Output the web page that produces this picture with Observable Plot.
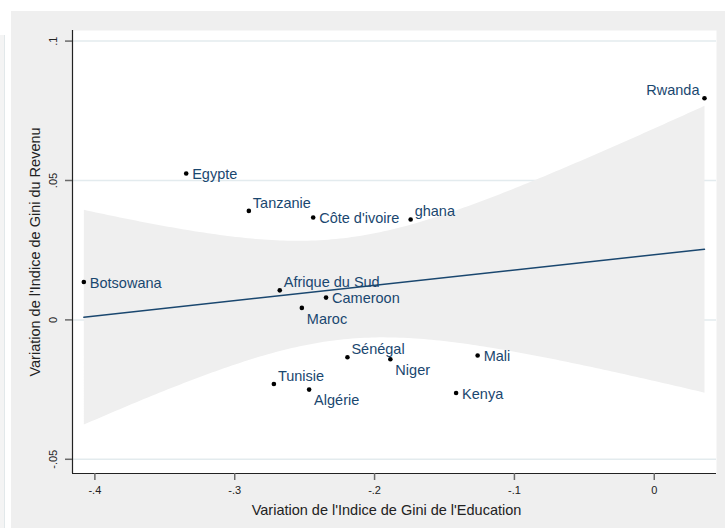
<!DOCTYPE html>
<html>
<head>
<meta charset="utf-8">
<script src="https://cdn.jsdelivr.net/npm/d3@7"></script>
<script src="https://cdn.jsdelivr.net/npm/@observablehq/plot@0.6"></script>
<style>
  html, body { margin: 0; padding: 0; background: #ffffff; }
  body { width: 725px; height: 528px; position: relative; overflow: hidden; font-family: "Liberation Sans", Arial, sans-serif; }
  #edge { position: absolute; left: 0; top: 35px; width: 4px; bottom: 0; background: #f4f4f4; border-right: 1px solid #e2e8ea; }
  #panel { position: absolute; left: 11px; top: 11px; right: -20px; bottom: -20px; background: #efefef; }
  #panel svg { display: block; }
</style>
</head>
<body>
<div id="edge"></div>
<div id="panel"></div>
<script>
// Change in the education Gini (x) against change in the income Gini (y), by country
const countries = ["Rwanda", "Egypte", "Tanzanie", "Côte d'ivoire", "ghana", "Botsowana", "Afrique du Sud", "Cameroon", "Maroc", "Sénégal", "Niger", "Mali", "Tunisie", "Algérie", "Kenya"];
const eduGini = [0.0359, -0.3347, -0.2899, -0.2439, -0.1742, -0.4079, -0.2678, -0.2347, -0.2520, -0.2194, -0.1887, -0.1263, -0.2720, -0.2468, -0.1417];
const incomeGini = [0.0795, 0.0525, 0.0391, 0.0367, 0.0360, 0.0136, 0.0106, 0.0080, 0.0043, -0.0134, -0.0141, -0.0128, -0.0230, -0.0250, -0.0262];
// marker-label clock positions (as with Stata's mlabvposition)
const labelClock = [11, 3, 2, 3, 2, 3, 2, 3, 4, 2, 4, 3, 2, 4, 3];

const xTicks = [-0.4, -0.3, -0.2, -0.1, 0];
const yTicks = [-0.05, 0, 0.05, 0.1];
const xDomain = [-0.416, 0.0445];
const yDomain = [-0.0551, 0.1038];

const xTitle = "Variation de l'Indice de Gini de l'Education";
const yTitle = "Variation de l'Indice de Gini du Revenu";

const rows = countries.map((c, i) => ({country: c, edu: eduGini[i], income: incomeGini[i], clock: labelClock[i]}));

// Stata-style numbers: ".05", "-.4", "0"
const fmt = v => String(+v.toFixed(4)).replace(/^(-?)0\./, "$1.");

const navy = "#1a476f";
const labelFont = 14.5;

// label offsets for each clock position
const placement = {
  3:  {dx: 6,  dy: 1,  textAnchor: "start"},
  2:  {dx: 4,  dy: -8, textAnchor: "start"},
  4:  {dx: 5,  dy: 11, textAnchor: "start"},
  11: {dx: -5, dy: -8, textAnchor: "end"}
};

const labelMarks = Object.entries(placement).map(([clock, p]) =>
  Plot.text(rows.filter(d => d.clock === +clock), {
    x: "edu", y: "income", text: "country",
    dx: p.dx, dy: p.dy, textAnchor: p.textAnchor,
    fill: navy, fontSize: labelFont
  })
);

const chart = Plot.plot({
  width: 714,
  height: 517,
  marginLeft: 61,
  marginRight: 9,
  marginTop: 19,
  marginBottom: 55,
  style: {background: "transparent", fontFamily: "'Liberation Sans', Arial, sans-serif", overflow: "visible"},
  x: {domain: xDomain, axis: null},
  y: {domain: yDomain, axis: null},
  marks: [
    Plot.frame({fill: "white", stroke: "none"}),
    Plot.gridY(yTicks, {stroke: "#e3ebee", strokeOpacity: 1, strokeWidth: 1.5}),
    Plot.linearRegressionY(rows, {
      x: "edu", y: "income", ci: 0.95,
      stroke: navy, strokeWidth: 1.5,
      fill: "#efefef", fillOpacity: 1
    }),
    Plot.ruleX([xDomain[0]], {stroke: "#222", strokeWidth: 1.2}),
    Plot.ruleY([yDomain[0]], {stroke: "#222", strokeWidth: 1.2}),
    Plot.axisX(xTicks, {
      tickSize: 7, tickPadding: 6, tickFormat: fmt,
      fontSize: 11, stroke: "#6a6a6a", strokeWidth: 1.5, fill: "#222", label: null
    }),
    Plot.axisY(yTicks, {
      tickSize: 7, stroke: "#6a6a6a", strokeWidth: 1.5, fill: "none", label: null
    }),
    Plot.text(yTicks, {
      y: d => d, text: d => fmt(d), frameAnchor: "left", textAnchor: "middle",
      rotate: -90, dx: -19, fontSize: 11, fill: "#222"
    }),
    Plot.text([yTitle], {
      text: d => d, frameAnchor: "left", textAnchor: "middle", rotate: -90, dx: -37,
      fontSize: labelFont, fill: "#222"
    }),
    Plot.text([xTitle], {
      text: d => d, frameAnchor: "bottom", dx: -8, dy: 41,
      fontSize: labelFont, fill: "#222"
    }),
    Plot.dot(rows, {x: "edu", y: "income", r: 2.3, fill: "black", stroke: "none"}),
    ...labelMarks
  ]
});

document.getElementById("panel").appendChild(chart);
</script>
</body>
</html>
